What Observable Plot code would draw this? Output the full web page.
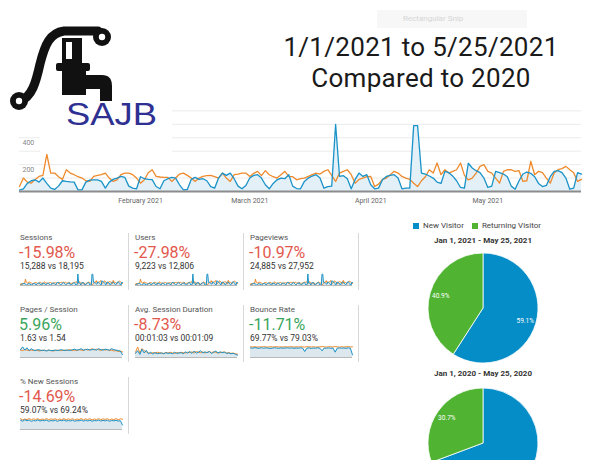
<!DOCTYPE html>
<html><head><meta charset="utf-8">
<script src="https://cdn.jsdelivr.net/npm/d3@7"></script>
<script src="https://cdn.jsdelivr.net/npm/@observablehq/plot@0.6"></script>
<style>
body{margin:0;width:589px;height:460px;overflow:hidden;background:#fff;position:relative;font-family:Roboto,"Noto Sans",sans-serif;}
.abs{position:absolute;white-space:nowrap;}
.lbl{font-size:8px;line-height:10px;color:#555;}
.pct{font-size:16px;line-height:14px;}
.sub{font-size:8.5px;line-height:10px;color:#333;}
.vdiv{position:absolute;width:1px;background:#d8d8d8;}
.title{font-family:Roboto,sans-serif;font-size:26px;line-height:31px;letter-spacing:0.3px;color:#1a1a1a;text-align:center;}
svg{overflow:visible;}
</style></head><body>
<script>
// ---------- data ----------
const startDay = "2021-01-01";
const sessions2021 = [
 10,20,60,80,87,70,100,60,25,15,
 40,80,75,72,70,12,12,70,85,87,
 87,75,25,70,90,100,112,105,40,25,
 20,110,95,90,88,37,20,80,95,105,
 100,50,12,15,90,105,90,95,80,37,
 25,100,137,120,137,95,40,20,45,100,
 120,125,100,50,20,60,87,100,95,125,
 40,22,20,75,100,115,125,100,25,37,
 40,500,112,118,95,20,90,137,112,125,
 50,20,25,87,112,120,125,100,20,25,
 25,490,490,137,130,115,100,70,60,150,
 140,115,80,30,25,210,175,155,140,100,
 30,40,150,140,130,110,40,17,80,130,
 145,135,110,60,37,45,110,150,155,140,
 100,17,25,140,130];
const sessions2020 = [
 37,100,70,62,90,112,120,276,137,137,
 110,90,162,137,125,110,100,80,75,112,
 120,125,137,100,75,87,125,137,137,125,
 100,62,87,140,162,112,108,105,105,75,
 100,130,137,120,100,75,100,112,118,120,
 110,100,137,100,75,125,130,137,137,112,
 135,150,118,155,125,110,100,125,150,112,
 110,87,95,100,112,125,137,130,150,162,
 120,75,137,150,162,125,62,90,100,110,
 112,37,55,90,100,125,150,137,112,100,
 90,62,37,80,110,162,137,212,125,162,
 137,150,162,212,120,87,100,137,187,200,
 150,137,100,62,150,162,162,150,155,75,
 80,225,125,150,140,100,62,137,162,170,
 187,162,140,75,90];
const monthTickDates = ["2021-02-01","2021-03-01","2021-04-01","2021-05-01"];
const monthTickLabels = ["February 2021","March 2021","April 2021","May 2021"];
const yTickValues = [200, 400];
const yGridValues = [100, 200, 300, 400, 500, 600];

const titleLines = ["1/1/2021 to 5/25/2021", "Compared to 2020"];

const metricNames = ["Sessions","Users","Pageviews","Pages / Session","Avg. Session Duration","Bounce Rate","% New Sessions"];
const metricChanges = ["-15.98%","-27.98%","-10.97%","5.96%","-8.73%","-11.71%","-14.69%"];
const metricGood = [false,false,false,true,false,true,false];
const metricCompare = ["15,288 vs 18,195","9,223 vs 12,806","24,885 vs 27,952","1.63 vs 1.54","00:01:03 vs 00:01:09","69.77% vs 79.03%","59.07% vs 69.24%"];

const pagesPerSession2021 = [1.7,2.3,1.6,2.1,1.5,1.9,1.6,1.5,1.7,1.6,1.5,1.6,1.4,1.6,1.5,1.5,1.6,1.5,1.6,1.7,1.5,1.6,1.6,1.5,1.7,1.8,1.6,1.7,1.9,1.6,1.7,1.8,1.6,1.7,1.8,1.6,1.9,1.7,1.6,1.8,1.7,1.6,1.9,1.7,1.6,1.5,1.4,0.6];
const pagesPerSession2020 = [1.6,1.5,1.7,1.6,1.5,1.6,1.5,1.6,1.5,1.4,1.6,1.5,1.5,1.6,1.5,1.4,1.5,1.6,1.5,1.5,1.6,1.5,1.6,1.7,1.5,1.6,1.5,1.7,1.6,1.5,1.8,1.6,1.7,1.9,1.6,1.8,1.7,1.5,1.8,1.6,1.7,1.5,1.6,1.4,1.5,1.3,1.4,1.2];
const duration2021 = [55,90,40,110,60,95,50,70,45,65,50,55,60,50,65,55,60,50,70,55,60,65,50,75,60,80,55,85,60,70,90,60,75,65,80,55,70,85,60,75,65,70,55,60,50,55,45,30];
const duration2020 = [70,140,60,120,90,75,60,55,65,60,70,65,60,55,65,60,70,60,55,65,60,70,65,60,70,65,75,60,80,70,65,75,60,70,80,65,75,70,60,65,70,75,60,65,55,60,50,45];
const bounce2021 = [72,70,74,71,69,73,70,72,71,68,70,73,71,69,72,70,71,73,70,72,69,71,70,72,71,45,70,72,68,71,70,73,69,50,71,70,72,69,71,40,70,72,70,71,69,72,70,20];
const bounce2020 = [80,79,81,78,80,79,82,80,78,81,79,80,82,79,80,78,81,79,80,82,78,80,79,81,80,78,82,80,79,81,78,80,79,82,80,78,81,80,79,82,80,78,81,79,80,82,79,80];
const newSess2021 = [62,55,65,58,63,54,60,57,64,56,61,58,63,55,60,57,62,54,61,58,63,56,60,57,62,55,59,58,63,56,61,57,62,55,60,58,63,56,61,57,62,55,60,58,61,56,59,30];
const newSess2020 = [72,64,70,66,73,65,71,67,72,64,70,66,73,65,71,67,72,64,70,66,73,65,71,67,72,64,70,66,73,65,71,67,72,64,70,66,73,65,71,67,72,64,70,66,73,65,71,68];

const visitorTypes = ["New Visitor","Returning Visitor"];
const visitorColors = ["#058dc7","#50b432"];
const pieTitles = ["Jan 1, 2021 - May 25, 2021","Jan 1, 2020 - May 25, 2020"];
const visitorShare2021 = [59.1, 40.9];
const visitorShare2020 = [69.3, 30.7];

// ---------- helpers ----------
const BLUE = "#1b93c8", ORANGE = "#ee8a2c";
const PAGE_H = 460;
function place(el, left, top){ el.style.position="absolute"; el.style.left=left+"px"; el.style.top=top+"px"; document.body.appendChild(el); return el; }
function textDiv(cls, txt, left, top, extra){ const d=document.createElement("div"); d.className="abs "+cls; d.textContent=txt; if(extra) Object.assign(d.style, extra); return place(d,left,top); }

// ---------- main line chart ----------
const t0 = d3.isoParse(startDay + "T00:00");
const mainRows = sessions2021.map((v,i)=>({date:d3.timeDay.offset(t0,i), cur:v, prev:sessions2020[i]}));
const mainPlot = Plot.plot({
  width:589, height:112, marginLeft:19, marginRight:8, marginTop:5, marginBottom:21,
  x:{type:"time", domain:[t0, d3.timeDay.offset(t0, sessions2021.length-1)], axis:null},
  y:{domain:[0,640], axis:null},
  style:{background:"transparent", fontFamily:"Roboto"},
  marks:[
    Plot.ruleY(yGridValues,{stroke:"#ebebeb", strokeWidth:1}),
    Plot.areaY(mainRows,{x:"date", y:"cur", fill:"#e3f0f8"}),
    Plot.lineY(mainRows,{x:"date", y:"prev", stroke:ORANGE, strokeWidth:1.3}),
    Plot.lineY(mainRows,{x:"date", y:"cur", stroke:BLUE, strokeWidth:1.3}),
    Plot.ruleY([0],{stroke:"#8c8c8c", strokeWidth:1.8}),
    Plot.text(yTickValues,{x:()=>t0, y:d=>d, text:d=>String(d), textAnchor:"start", dx:3, dy:5, fontSize:7, fill:"#888"}),
    Plot.text(monthTickDates,{x:d=>d3.isoParse(d+"T00:00"), y:()=>0, text:(d,i)=>monthTickLabels[i], dy:9, fontSize:7, fill:"#666"})
  ]
});
place(mainPlot, 0, 100);

// ---------- logo (decorative) ----------
const logo = document.createElement("div");
logo.innerHTML = `<svg width="172" height="155" xmlns="http://www.w3.org/2000/svg">
<rect x="0" y="0" width="172" height="133" fill="#fff"/>
<rect x="40" y="132" width="132" height="20" fill="#fff"/>
<path d="M20 101 C 32 97, 36 82, 40 64 C 45 44, 50 33, 64 31 L 98 31" fill="none" stroke="#111" stroke-width="9" stroke-linecap="round"/>
<circle cx="19" cy="101" r="9" fill="#111"/><circle cx="19" cy="101" r="3.2" fill="#fff"/>
<circle cx="102" cy="37" r="9" fill="#111"/><circle cx="102" cy="37" r="3.2" fill="#fff"/>
<rect x="62" y="38" width="20" height="26" fill="#111"/>
<rect x="66" y="42" width="6" height="17" fill="#fff"/>
<rect x="56" y="63" width="34" height="8" rx="2" fill="#111"/>
<rect x="62" y="71" width="24" height="24" fill="#111"/>
<path d="M84 75 H102 Q112 75 112 86 V101 H100 V89 H84 Z" fill="#111"/>
<text x="66" y="125" font-family="Liberation Sans" font-size="32" fill="#2e3192" textLength="91" lengthAdjust="spacingAndGlyphs">SAJB</text>
</svg>`;
place(logo, 0, 0);

// faint screen-snip artefact
const snip = document.createElement("div");
Object.assign(snip.style,{width:"150px",height:"18px",background:"#f7f7f7",color:"#d6d6d6",fontSize:"8px",lineHeight:"18px",paddingLeft:"26px",boxSizing:"border-box"});
snip.textContent = "Rectangular Snip";
place(snip, 377, 10);

// ---------- title (one block, two lines) ----------
const title = document.createElement("div");
title.className = "abs title";
title.style.width = "300px";
title.innerHTML = titleLines.join("<br>");
place(title, 271, 32);

// ---------- scorecards ----------
function spark(cur, prev, yMax){
  const rows = cur.map((v,i)=>({i, cur:v, prev:prev[i]}));
  return Plot.plot({
    width:102, height:14, marginLeft:0, marginRight:0, marginTop:1, marginBottom:1,
    x:{axis:null, domain:[0, cur.length-1]}, y:{axis:null, domain:[0, yMax]},
    style:{background:"transparent"},
    marks:[
      Plot.areaY(rows,{x:"i", y:"cur", fill:"#dce7ee"}),
      Plot.lineY(rows,{x:"i", y:"prev", stroke:ORANGE, strokeWidth:1}),
      Plot.lineY(rows,{x:"i", y:"cur", stroke:BLUE, strokeWidth:1}),
      Plot.ruleY([0],{stroke:"#b8b8b8", strokeWidth:1})
    ]
  });
}
const sparkSeries = [
  [sessions2021, sessions2020, 520],
  [sessions2021, sessions2020, 520],
  [sessions2021, sessions2020, 520],
  [pagesPerSession2021, pagesPerSession2020, 2.6],
  [duration2021, duration2020, 160],
  [bounce2021, bounce2020, 90],
  [newSess2021, newSess2020, 80]
];
const colX = [20, 135, 250];
const rowY = [233, 305, 377];
metricNames.forEach((name, k)=>{
  const c = k % 3, r = Math.floor(k / 3);
  const x = colX[c], y = rowY[r];
  textDiv("lbl", name, x, y);
  textDiv("pct", metricChanges[k], x - 1, y + 13, {color: metricGood[k] ? "#3ba55c" : "#e2584d"});
  textDiv("sub", metricCompare[k], x, y + 27.5);
  const [a, b, m] = sparkSeries[k];
  place(spark(a, b, m), x, y + 39);
  const dv = document.createElement("div"); dv.className = "vdiv";
  dv.style.height = "57px";
  place(dv, x + 108, y);
});

// ---------- pies ----------
function pieMark(shares, visibleH){
  return (index, scales, values, dims) => {
    const cx = dims.width / 2, cy = dims.height / 2, r = Math.min(cx, cy) - 3;
    const g = d3.create("svg:g").attr("transform", `translate(${cx},${cy})`);
    const arcs = d3.pie().sort(null).value(d => d)(shares);
    const arc = d3.arc().innerRadius(0).outerRadius(r);
    const lab = d3.arc().innerRadius(r * 0.6).outerRadius(r);
    g.selectAll("path").data(arcs).join("path")
      .attr("d", arc).attr("fill", (d, i) => visitorColors[i]).attr("stroke", "#fff").attr("stroke-width", 0.8);
    // only labels that fall inside the visible part of the page
    const shown = arcs.filter(d => cy + lab.centroid(d)[1] + 5 < visibleH);
    g.selectAll("text").data(shown).join("text")
      .attr("transform", d => `translate(${lab.centroid(d)})`)
      .attr("text-anchor", "middle").attr("dy", "0.35em")
      .attr("fill", "#fff").attr("font-size", 6.5).attr("font-family", "Roboto")
      .text(d => d.data.toFixed(1) + "%");
    return g.node();
  };
}
function piePlot(shares, top){
  const p = Plot.plot({width:116, height:116, margin:0, style:{background:"transparent"}, marks:[pieMark(shares, PAGE_H - top)]});
  return place(p, 425, top);
}
// legend
const leg = document.createElement("div");
leg.style.fontSize = "8px"; leg.style.color = "#444"; leg.style.whiteSpace = "nowrap"; leg.style.lineHeight = "10px";
leg.innerHTML = visitorTypes.map((t,i)=>`<span style="display:inline-block;width:6px;height:6px;background:${visitorColors[i]};margin-right:4px;vertical-align:-0.5px"></span><span style="margin-right:8px">${t}</span>`).join("");
place(leg, 413, 221);
textDiv("", pieTitles[0], 383, 236, {width:"200px", textAlign:"center", fontSize:"8px", lineHeight:"10px", fontWeight:"700", color:"#333"});
piePlot(visitorShare2021, 250);
textDiv("", pieTitles[1], 383, 369, {width:"200px", textAlign:"center", fontSize:"8px", lineHeight:"10px", fontWeight:"700", color:"#333"});
piePlot(visitorShare2020, 385);
</script>
</body></html>
